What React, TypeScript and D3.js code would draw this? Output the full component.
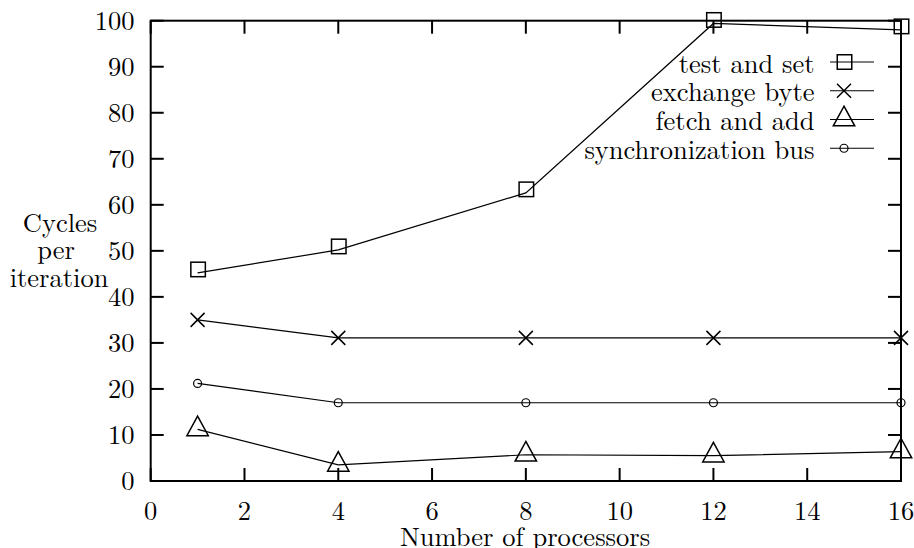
import React from "react";
import * as d3 from "d3";

const procs = [1, 4, 8, 12, 16];
const testAndSet = [45.2, 50.2, 62.6, 99.4, 98.0];
const exchangeByte = [35.0, 31.1, 31.1, 31.1, 31.1];
const fetchAndAdd = [11.2, 3.5, 5.7, 5.5, 6.4];
const syncBus = [21.2, 17.0, 17.0, 17.0, 17.0];
const seriesNames = ["test and set", "exchange byte", "fetch and add", "synchronization bus"];
const xTicks = [0, 2, 4, 6, 8, 10, 12, 14, 16];
const yTicks = [0, 10, 20, 30, 40, 50, 60, 70, 80, 90, 100];
const yLabelLines = ["Cycles", "per", "iteration"];

const TS: React.CSSProperties = { fontFamily: '"Latin Modern Roman", serif' };
const FS = 26.5;

function Marker({ kind, x, y, inPlot }: { kind: string; x: number; y: number; inPlot: boolean }) {
  const st = { fill: "none", stroke: "#000", strokeWidth: 1.5 };
  if (kind === "square") {
    const dy = inPlot ? -3.5 : 0;
    const s = 14.5;
    return <rect x={x - s / 2 + 0.5} y={y + dy - s / 2} width={s} height={s} {...st} />;
  }
  if (kind === "cross") {
    const h = 7;
    return (
      <path d={`M${x - h},${y - h}L${x + h},${y + h}M${x - h},${y + h}L${x + h},${y - h}`} {...st} />
    );
  }
  if (kind === "triangle") {
    return (
      <path d={`M${x},${y - 13.3}L${x + 10.7},${y + 6.3}L${x - 10.7},${y + 6.3}Z`} {...st} />
    );
  }
  return <circle cx={x} cy={y} r={4} {...st} strokeWidth={1.2} />;
}

export default function App() {
  const x = d3.scaleLinear().domain([0, 16]).range([150.7, 901]);
  const y = d3.scaleLinear().domain([0, 100]).range([481, 20.7]);
  const series = [
    { name: seriesNames[0], vals: testAndSet, kind: "square" },
    { name: seriesNames[1], vals: exchangeByte, kind: "cross" },
    { name: seriesNames[2], vals: fetchAndAdd, kind: "triangle" },
    { name: seriesNames[3], vals: syncBus, kind: "circle" },
  ];
  const line = d3
    .line<number>()
    .x((_, i) => x(procs[i]))
    .y((d) => y(d));
  const [x0, x1] = x.range();
  const [y0, y1] = y.range();
  const tl = 13;
  const legendRowY = (i: number) => 62 + i * 28.75;

  return (
    <svg
      width={914}
      height={548}
      style={{ position: "absolute", left: 0, top: 0, background: "#fff" }}
    >
      <rect x={0} y={0} width={914} height={548} fill="#fff" />
      {yTicks.map((t) => (
        <g key={"y" + t}>
          <line x1={x0} x2={x0 + tl} y1={y(t)} y2={y(t)} stroke="#000" strokeWidth={2} />
          <line x1={x1} x2={x1 - tl} y1={y(t)} y2={y(t)} stroke="#000" strokeWidth={2} />
          <text x={134.5} y={y(t) + 9} textAnchor="end" fontSize={FS} style={TS}>
            {t}
          </text>
        </g>
      ))}
      {xTicks.map((t) => (
        <g key={"x" + t}>
          <line x1={x(t)} x2={x(t)} y1={y0} y2={y0 - tl} stroke="#000" strokeWidth={2} />
          <line x1={x(t)} x2={x(t)} y1={y1} y2={y1 + tl} stroke="#000" strokeWidth={2} />
          <text x={x(t)} y={520} textAnchor="middle" fontSize={FS} style={TS}>
            {t}
          </text>
        </g>
      ))}
      <rect x={x0} y={y1} width={x1 - x0} height={y0 - y1} fill="none" stroke="#000" strokeWidth={2} />
      {series.map((s) => (
        <g key={s.name}>
          <path d={line(s.vals) || ""} fill="none" stroke="#000" strokeWidth={1.2} />
          {s.vals.map((v, i) => (
            <Marker key={i} kind={s.kind} x={x(procs[i])} y={y(v)} inPlot={true} />
          ))}
        </g>
      ))}
      {series.map((s, i) => (
        <g key={"lg" + s.name}>
          <text x={814.5} y={legendRowY(i) + 10.5} textAnchor="end" fontSize={FS} style={TS}>
            {s.name}
          </text>
          <line x1={830} x2={874} y1={legendRowY(i)} y2={legendRowY(i)} stroke="#000" strokeWidth={1.2} />
          <Marker kind={s.kind} x={844} y={legendRowY(i)} inPlot={false} />
        </g>
      ))}
      <text x={525} y={546} textAnchor="middle" fontSize={FS} style={TS}>
        Number of processors
      </text>
      <text x={60} y={232} textAnchor="middle" fontSize={FS} style={TS}>
        {yLabelLines[0]}
      </text>
      <text x={56} y={258.5} textAnchor="middle" fontSize={FS} style={TS}>
        {yLabelLines[1]}
      </text>
      <text x={59} y={286.5} textAnchor="middle" fontSize={FS} style={TS}>
        {yLabelLines[2]}
      </text>
    </svg>
  );
}
